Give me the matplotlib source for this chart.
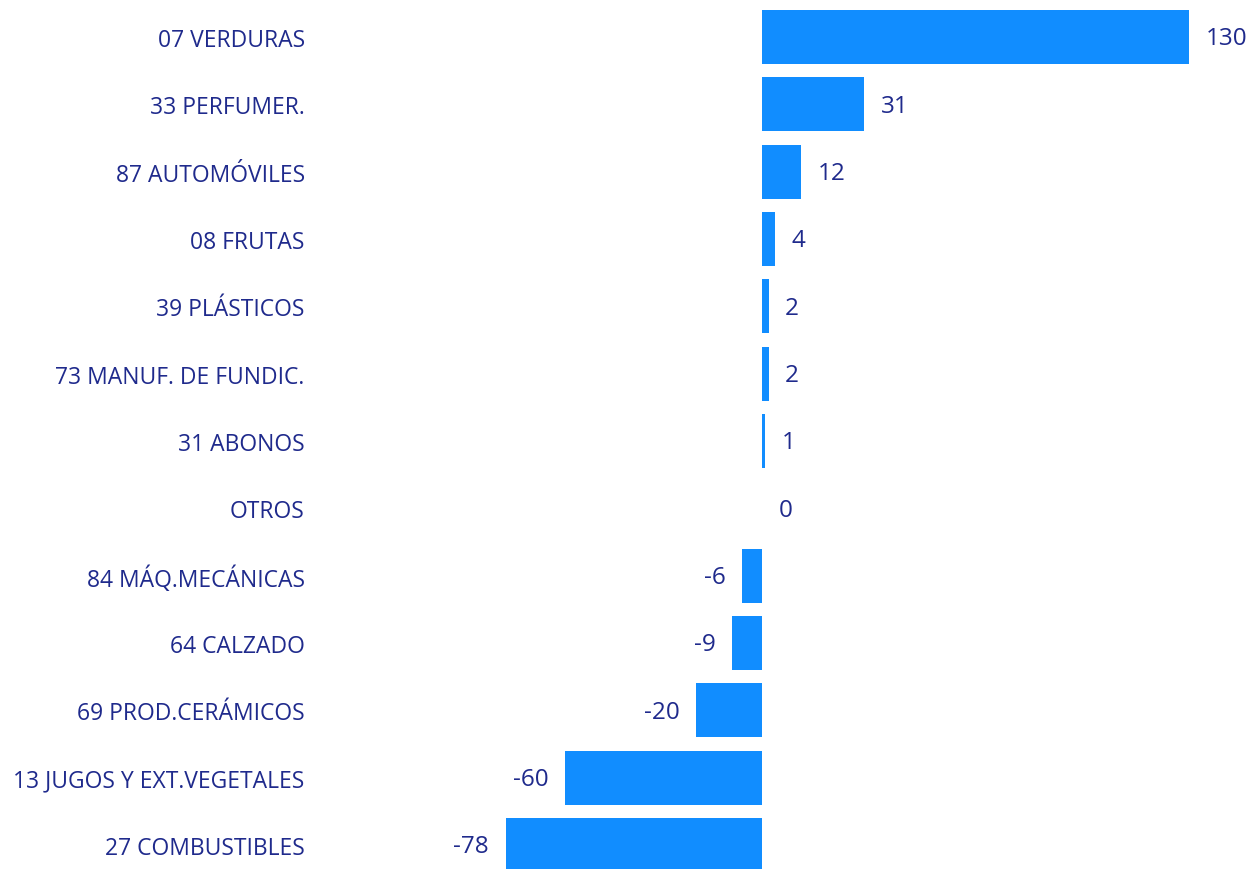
import matplotlib.pyplot as plt

categories = ['07 VERDURAS', '33 PERFUMER.', '87 AUTOMÓVILES', '08 FRUTAS', '39 PLÁSTICOS',
              '73 MANUF. DE FUNDIC.', '31 ABONOS', 'OTROS', '84 MÁQ.MECÁNICAS', '64 CALZADO',
              '69 PROD.CERÁMICOS', '13 JUGOS Y EXT.VEGETALES', '27 COMBUSTIBLES']
values = [130, 31, 12, 4, 2, 2, 1, 0, -6, -9, -20, -60, -78]

bar_color = '#118DFF'
text_color = '#1F2A8C'

plt.rcParams['font.family'] = ['Open Sans', 'DejaVu Sans']

fig = plt.figure(figsize=(12.55, 8.7), dpi=100)
ax = fig.add_axes([320 / 1255, 0, 930 / 1255, 1])

pos = list(range(len(categories)))
bars = ax.barh(pos, values, height=0.8, color=bar_color)

ax.set_xlim(-(762 - 320) / 3.285, (1250 - 762) / 3.285)
ax.set_ylim(12 + (870 - 846) / 67.3, -38 / 67.3)

ax.set_yticks(pos)
ax.set_yticklabels(categories, fontsize=16.5, color=text_color)
ax.tick_params(axis='y', length=0, pad=11)
ax.set_xticks([])
for s in ax.spines.values():
    s.set_visible(False)

for b, v in zip(bars, values):
    y = b.get_y() + b.get_height() / 2
    if v >= 0:
        ax.annotate(str(v), (v, y), xytext=(12, -1), textcoords='offset points',
                    ha='left', va='center', fontsize=17.5, color=text_color)
    else:
        ax.annotate(str(v), (v, y), xytext=(-12, -1), textcoords='offset points',
                    ha='right', va='center', fontsize=17.5, color=text_color)

fig.savefig('out.png', dpi=100)
